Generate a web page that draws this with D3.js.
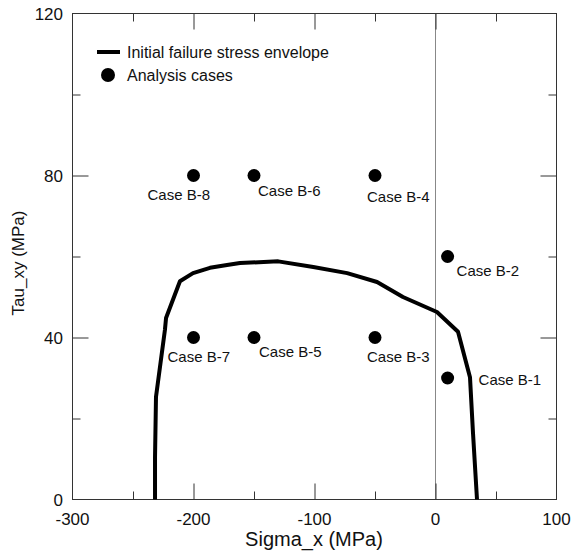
<!DOCTYPE html>
<html>
<head>
<meta charset="utf-8">
<script src="https://cdn.jsdelivr.net/npm/d3@7"></script>
<style>
  html, body { margin: 0; padding: 0; background: #fff; }
  text { font-family: "Liberation Sans", Arial, sans-serif; fill: #111; }
</style>
</head>
<body>
<svg id="chart" width="574" height="556"></svg>
<script>
// ---- data ----
const envelopeSigma = [-231.8, -231.8, -231, -223.6, -222.7, -211.2, -200.4, -186.4, -172.3, -161.6, -130, -101, -73, -48.3, -26.9, 1.2, 18.6, 28.5, 31, 34.3];
const envelopeTau   = [0, 10.5, 25.3, 41.9, 44.8, 53.9, 55.9, 57.2, 57.9, 58.4, 58.8, 57.4, 55.9, 53.7, 50, 46.3, 41.4, 30.2, 16.4, 0];
const caseNames = ["Case B-1", "Case B-2", "Case B-3", "Case B-4", "Case B-5", "Case B-6", "Case B-7", "Case B-8"];
const caseSigma = [10, 10, -50, -50, -150, -150, -200, -200];
const caseTau   = [30, 60, 40, 80, 40, 80, 40, 80];
const xTickLabels = [-300, -200, -100, 0, 100];
const yTickLabels = [0, 40, 80, 120];
const xMinorTicks = [-250, -150, -50, 50];
const yMinorTicks = [20, 60, 100];
const legendLabels = ["Initial failure stress envelope", "Analysis cases"];

// ---- layout ----
const L = 72.5, R = 556.5, T = 13.5, B = 499.5;
const x = d3.scaleLinear().domain([-300, 100]).range([L, R]);
const y = d3.scaleLinear().domain([0, 120]).range([B, T]);
const svg = d3.select("#chart");
const frameColor = "#333";

// label offsets relative to the marker (dx = text start, dy = baseline)
const labelOffsets = {
  "Case B-1": [31, 7], "Case B-2": [9, 19], "Case B-3": [-8, 24], "Case B-4": [-8, 26],
  "Case B-5": [5, 19], "Case B-6": [4, 20], "Case B-7": [-26, 24], "Case B-8": [-46, 24]
};

// zero line
svg.append("line").attr("x1", x(0)).attr("x2", x(0)).attr("y1", B).attr("y2", T)
  .attr("stroke", "#888").attr("stroke-width", 1);

// axes with inward ticks
const majorX = [-200, -100, 0];
const majorY = [40, 80];
function drawTicks(axis, values, len) {
  return axis.tickValues(values).tickSize(len).tickFormat("");
}
const gB = svg.append("g").attr("transform", `translate(0,${B})`).call(d3.axisTop(x).tickValues(majorX).tickSize(16).tickFormat("").tickSizeOuter(0));
svg.append("g").attr("transform", `translate(0,${B})`).call(d3.axisTop(x).tickValues(xMinorTicks).tickSize(8).tickFormat("").tickSizeOuter(0));
svg.append("g").attr("transform", `translate(0,${T})`).call(d3.axisBottom(x).tickValues(majorX).tickSize(16).tickFormat("").tickSizeOuter(0));
svg.append("g").attr("transform", `translate(0,${T})`).call(d3.axisBottom(x).tickValues(xMinorTicks).tickSize(8).tickFormat("").tickSizeOuter(0));
svg.append("g").attr("transform", `translate(${L},0)`).call(d3.axisRight(y).tickValues(majorY).tickSize(16).tickFormat("").tickSizeOuter(0));
svg.append("g").attr("transform", `translate(${L},0)`).call(d3.axisRight(y).tickValues(yMinorTicks).tickSize(8).tickFormat("").tickSizeOuter(0));
svg.append("g").attr("transform", `translate(${R},0)`).call(d3.axisLeft(y).tickValues(majorY).tickSize(16).tickFormat("").tickSizeOuter(0));
svg.append("g").attr("transform", `translate(${R},0)`).call(d3.axisLeft(y).tickValues(yMinorTicks).tickSize(8).tickFormat("").tickSizeOuter(0));
svg.selectAll(".domain").remove();
svg.selectAll(".tick line").attr("stroke", frameColor).attr("stroke-width", 1);

// frame
svg.append("rect").attr("x", L).attr("y", T).attr("width", R - L).attr("height", B - T)
  .attr("fill", "none").attr("stroke", frameColor).attr("stroke-width", 1);

// tick labels
svg.append("g").selectAll("text").data(xTickLabels).join("text")
  .attr("x", d => x(d)).attr("y", 525).attr("text-anchor", "middle")
  .attr("font-size", 17).text(d => d);
svg.append("g").selectAll("text").data(yTickLabels).join("text")
  .attr("x", 63).attr("y", d => y(d) + 6).attr("text-anchor", "end")
  .attr("font-size", 17).text(d => d);

// axis titles
svg.append("text").attr("x", 314).attr("y", 546).attr("text-anchor", "middle")
  .attr("font-size", 20).text("Sigma_x (MPa)");
svg.append("text").attr("transform", "translate(24,263) rotate(-90)").attr("text-anchor", "middle")
  .attr("font-size", 17).text("Tau_xy (MPa)");

// envelope
const env = envelopeSigma.map((s, i) => [s, envelopeTau[i]]);
svg.append("path").datum(env)
  .attr("d", d3.line().x(d => x(d[0])).y(d => y(d[1])))
  .attr("fill", "none").attr("stroke", "#000").attr("stroke-width", 4)
  .attr("stroke-linejoin", "round");

// cases
const cases = caseNames.map((n, i) => ({ name: n, s: caseSigma[i], t: caseTau[i] }));
svg.append("g").selectAll("circle").data(cases).join("circle")
  .attr("cx", d => x(d.s)).attr("cy", d => y(d.t)).attr("r", 6.5).attr("fill", "#000");
svg.append("g").selectAll("text").data(cases).join("text")
  .attr("x", d => x(d.s) + labelOffsets[d.name][0])
  .attr("y", d => y(d.t) + labelOffsets[d.name][1])
  .attr("font-size", 15).text(d => d.name);

// legend
svg.append("line").attr("x1", 97).attr("x2", 120).attr("y1", 52).attr("y2", 52)
  .attr("stroke", "#000").attr("stroke-width", 4);
svg.append("circle").attr("cx", 108).attr("cy", 75).attr("r", 7).attr("fill", "#000");
svg.append("g").selectAll("text").data(legendLabels).join("text")
  .attr("x", 127).attr("y", (d, i) => 58 + i * 23).attr("font-size", 16).text(d => d);
</script>
</body>
</html>
